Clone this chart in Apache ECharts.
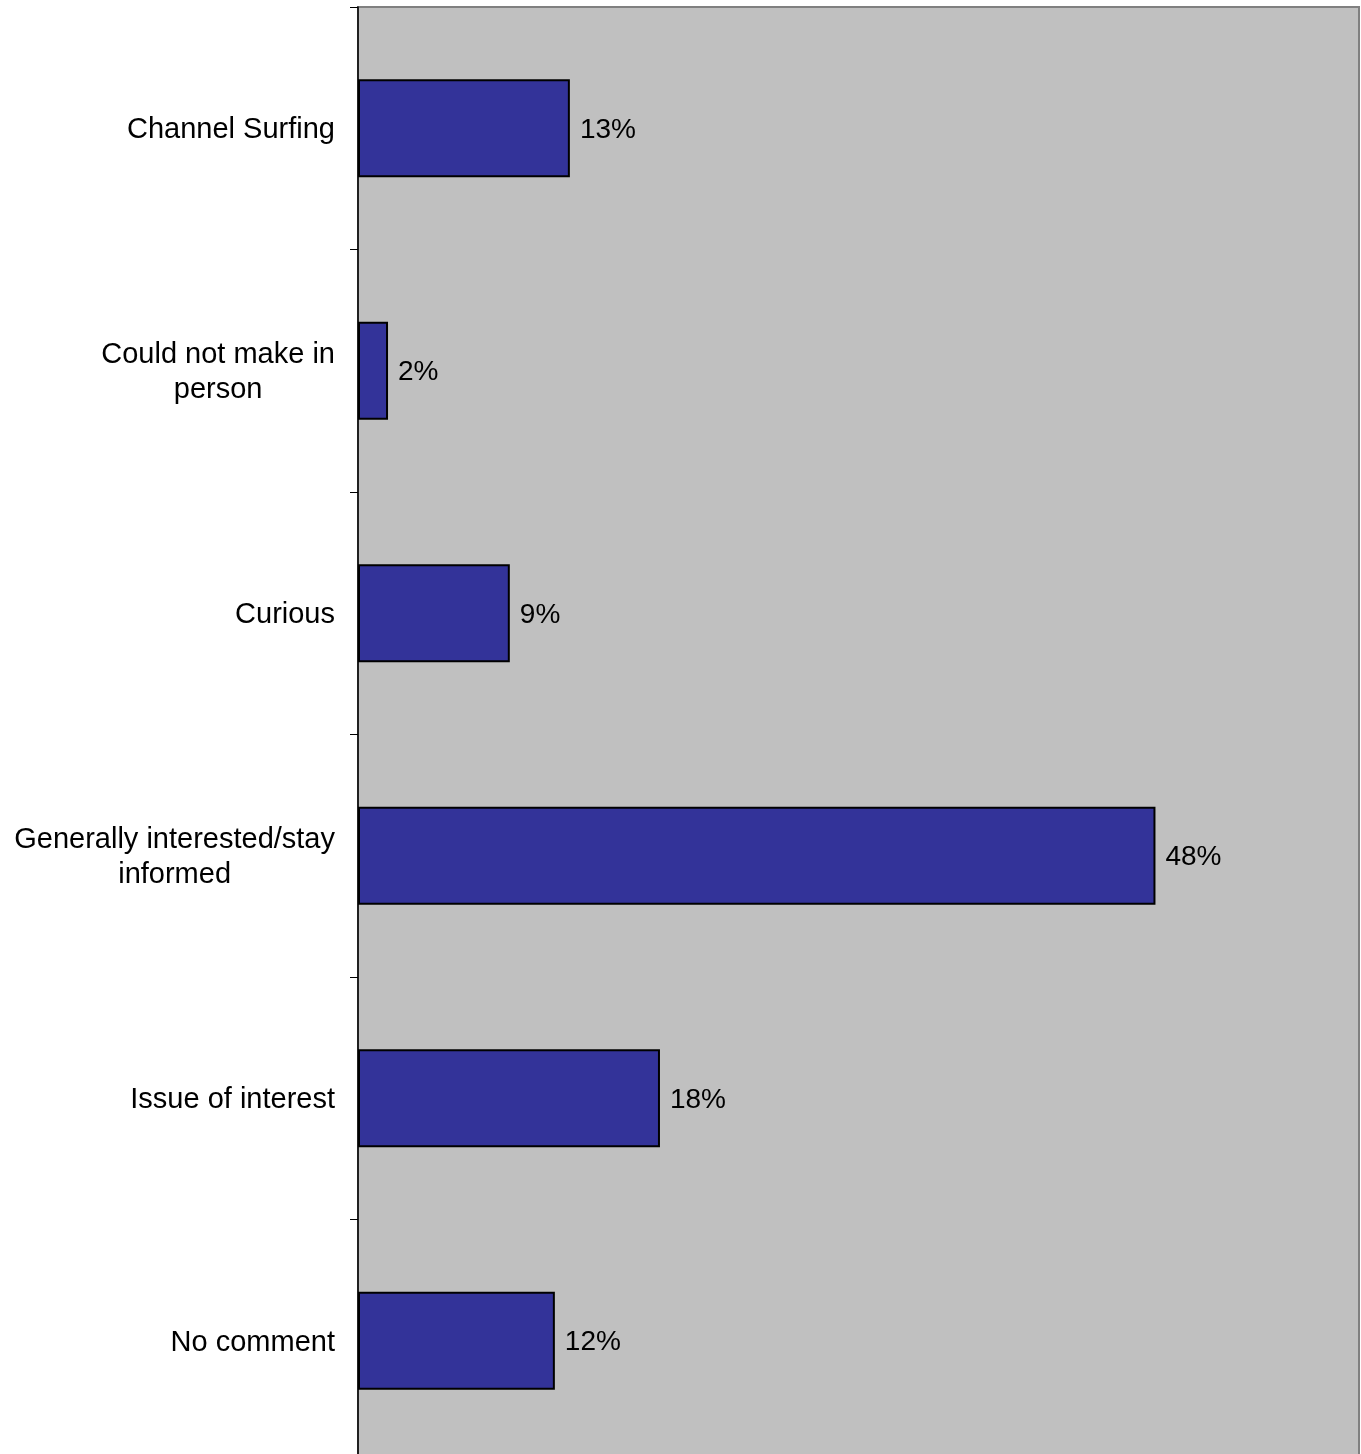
<!DOCTYPE html>
<html>
<head>
<meta charset="utf-8">
<script src="https://cdn.jsdelivr.net/npm/echarts@6/dist/echarts.min.js"></script>
<style>
html,body{margin:0;padding:0;background:#fff;overflow:hidden;}
#chart{width:1361px;height:1470px;}
</style>
</head>
<body>
<div id="chart"></div>
<script>
var categories = [
  "Channel Surfing",
  "Could not make in\nperson",
  "Curious",
  "Generally interested/stay\ninformed",
  "Issue of interest",
  "No comment"
];
var values = [12.7, 1.8, 9.1, 47.8, 18.1, 11.8];
var valueLabels = ["13%", "2%", "9%", "48%", "18%", "12%"];

var chart = echarts.init(document.getElementById('chart'), null, {renderer: 'canvas'});
var FONT = '"Liberation Sans", Arial, sans-serif';
chart.setOption({
  animation: false,
  backgroundColor: '#ffffff',
  grid: {
    left: 358, top: 7, right: 2, bottom: 8,
    show: true, backgroundColor: '#C0C0C0', borderColor: '#808080', borderWidth: 2
  },
  xAxis: {
    type: 'value', min: 0, max: 60, interval: 10,
    axisLine: {show: false}, axisTick: {show: false},
    axisLabel: {show: false}, splitLine: {show: false}
  },
  yAxis: {
    type: 'category', data: categories, inverse: true,
    axisLine: {show: true, lineStyle: {color: '#000', width: 1.5}},
    axisTick: {show: true, length: 8, lineStyle: {color: '#000', width: 1}},
    axisLabel: {
      margin: 23, color: '#000', fontFamily: FONT, fontSize: 29, lineHeight: 35,
      align: 'right', padding: [4, 0, 0, 0],
      formatter: function (v) {
        return v.split('\n').map(function (l) { return '{a|' + l + '}'; }).join('\n');
      },
      rich: {a: {align: 'center', fontFamily: FONT, fontSize: 29, lineHeight: 35, color: '#000'}}
    },
    splitLine: {show: false}
  },
  series: [{
    type: 'bar',
    data: values,
    barWidth: 98,
    itemStyle: {color: '#333399', borderColor: '#000', borderWidth: 2},
    label: {
      show: true, position: 'right', distance: 10, offset: [0, 2],
      color: '#000', fontFamily: FONT, fontSize: 28,
      formatter: function (p) { return valueLabels[p.dataIndex]; }
    }
  }]
});
</script>
</body>
</html>
